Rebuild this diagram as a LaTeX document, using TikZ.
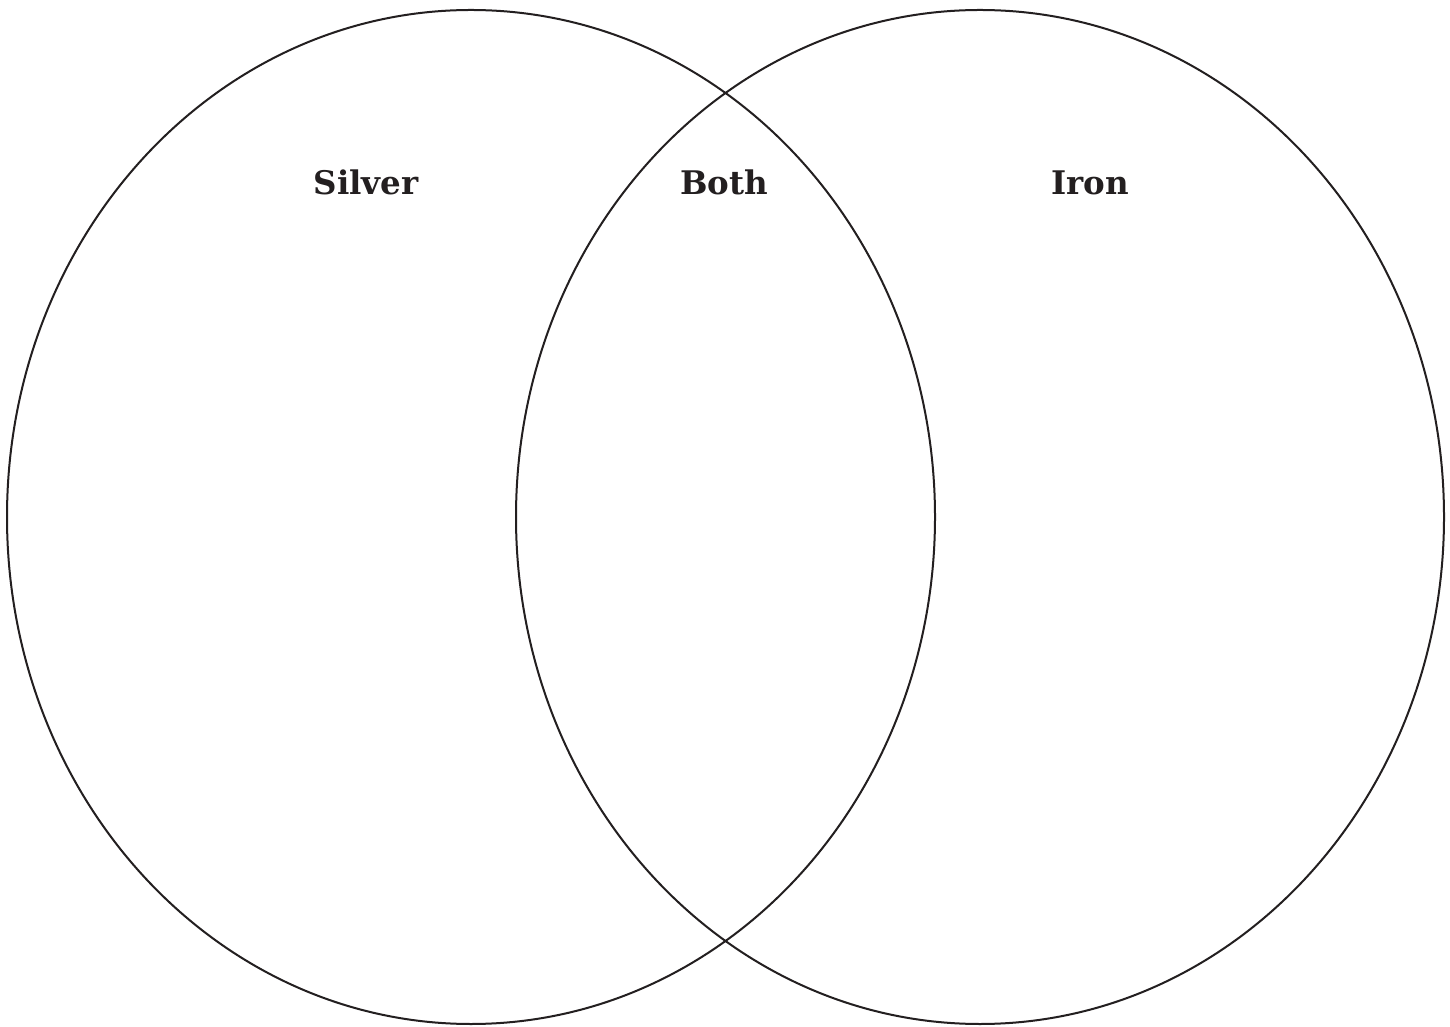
\documentclass[tikz,border=0pt]{standalone}
\usepackage{fontspec}
\setmainfont{DejaVu Serif}
\definecolor{ink}{HTML}{231F20}
\begin{document}
\begin{tikzpicture}[x=1pt,y=1pt,
  circ/.style={draw=ink,line width=2pt},
  lbl/.style={anchor=base,text=ink,font=\fontsize{32.5}{38}\selectfont\bfseries,inner sep=0pt}]
\useasboundingbox (0,0) rectangle (1450,1026);
\fill[white] (0,0) rectangle (1450,1026);
\draw[circ] (471,509) ellipse [x radius=464, y radius=507];
\draw[circ] (980,509) ellipse [x radius=464, y radius=507];
\node[lbl] (silver) at (366,831) {Silver};
\node[lbl] (both) at (724,831) {Both};
\node[lbl] (iron) at (1090,831) {Iron};
\end{tikzpicture}
\end{document}
